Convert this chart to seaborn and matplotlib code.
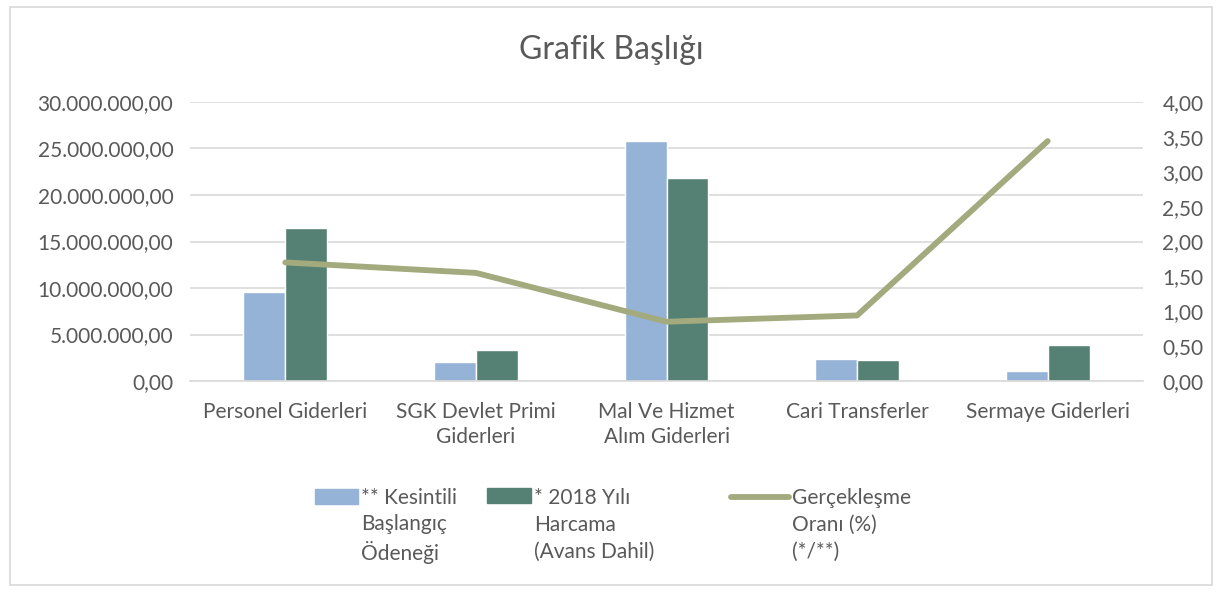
import pandas as pd
import matplotlib
matplotlib.use("Agg")
import matplotlib.pyplot as plt
from matplotlib.ticker import FuncFormatter, MultipleLocator
from matplotlib.patches import Rectangle
from matplotlib.lines import Line2D
import seaborn as sns

categories = ["Personel Giderleri", "SGK Devlet Primi\nGiderleri", "Mal Ve Hizmet\nAlım Giderleri",
              "Cari Transferler", "Sermaye Giderleri"]
kesintili = [9600000, 2080000, 25800000, 2370000, 1120000]
harcama = [16400000, 3330000, 21860000, 2220000, 3840000]
oran = [1.70, 1.55, 0.85, 0.94, 3.44]

lbl_kes = "** Kesintili\nBaşlangıç\nÖdeneği"
lbl_har = "* 2018 Yılı\nHarcama\n(Avans Dahil)"
lbl_oran = "Gerçekleşme\nOranı (%)\n(*/**)"

df = pd.DataFrame({
    "kategori": categories * 2,
    "deger": kesintili + harcama,
    "seri": [lbl_kes] * len(categories) + [lbl_har] * len(categories),
})

sns.set_theme(style="white")
plt.rcParams['font.family'] = ['Lato', 'DejaVu Sans']
gray = "#595959"
fs = 15
c_kes, c_har, c_oran = "#95B3D7", "#558074", "#A2AA7E"

fig = plt.figure(figsize=(12.22, 5.93), dpi=100)
ax = fig.add_axes([190 / 1222, 1 - 381 / 593, 953 / 1222, 279 / 593])

sns.barplot(data=df, x="kategori", y="deger", hue="seri", ax=ax,
            palette=[c_kes, c_har], width=0.44, gap=0, saturation=1)
ax.get_legend().remove()
ax.set_ylim(0, 30000000)
ax.set_xlim(-0.5, len(categories) - 0.5)
ax.yaxis.set_major_locator(MultipleLocator(5000000))

def tr_fmt(v, pos):
    s = f"{v:,.2f}"
    return s.replace(",", "X").replace(".", ",").replace("X", ".")

ax.yaxis.set_major_formatter(FuncFormatter(tr_fmt))
ax.grid(axis="y", color="#D9D9D9", linewidth=1.2)
ax.set_axisbelow(True)
for s in ["top", "left", "right"]:
    ax.spines[s].set_visible(False)
ax.spines["bottom"].set_color("#D9D9D9")
ax.spines["bottom"].set_linewidth(1.2)
ax.tick_params(axis="both", length=0, labelsize=fs, labelcolor=gray)
ax.tick_params(axis="x", pad=15)
ax.tick_params(axis="y", pad=12)
for t in ax.get_xticklabels():
    t.set_linespacing(1.35)
ax.set_xlabel("")
ax.set_ylabel("")

ax2 = ax.twinx()
sns.lineplot(x=list(range(len(categories))), y=oran, ax=ax2, color=c_oran, linewidth=4.2)
ax2.set_ylim(0, 4)
ax2.yaxis.set_major_locator(MultipleLocator(0.5))
ax2.yaxis.set_major_formatter(FuncFormatter(lambda v, p: f"{v:.2f}".replace(".", ",")))
ax2.tick_params(axis="y", which="both", length=0, labelsize=fs, labelcolor=gray, pad=14)
for s in ax2.spines.values():
    s.set_visible(False)
ax2.grid(False)

fig.text(0.5, 1 - 50 / 593, "Grafik Başlığı", ha="center", va="center", fontsize=23, color=gray)

# one legend per entry so each column sits where the reference has it
entries = [
    (Rectangle((0, 0), 1, 1, color=c_kes), lbl_kes, 315, 2.05, 1.36, 21.8),
    (Rectangle((0, 0), 1, 1, color=c_har), lbl_har, 487, 2.1, 1.42, 21.5),
    (Line2D([0], [0], color=c_oran, linewidth=4.2), lbl_oran, 731, 2.8, 1.42, 20.8),
]
for handle, label, x0, hl, ls, shift in entries:
    leg = fig.legend([handle], [label], loc="upper left", bbox_to_anchor=(x0 / 1222, 1 - 488 / 593),
                     frameon=False, fontsize=fs, borderpad=0, borderaxespad=0,
                     handlelength=hl, handleheight=0.7, handletextpad=0.15)
    for t in leg.get_texts():
        t.set_color(gray)
        t.set_linespacing(ls)
    # move the key up to the first line of its label
    for h in leg.legend_handles:
        if isinstance(h, Rectangle):
            h.set_y(h.get_y() + shift)
        else:
            h.set_ydata([y + shift for y in h.get_ydata()])

fig.patches.append(Rectangle((10 / 1222, 8 / 593), 1202 / 1222, 578 / 593, transform=fig.transFigure,
                             fill=False, edgecolor="#D9D9D9", linewidth=1.2))

fig.savefig("out.png", dpi=100)
